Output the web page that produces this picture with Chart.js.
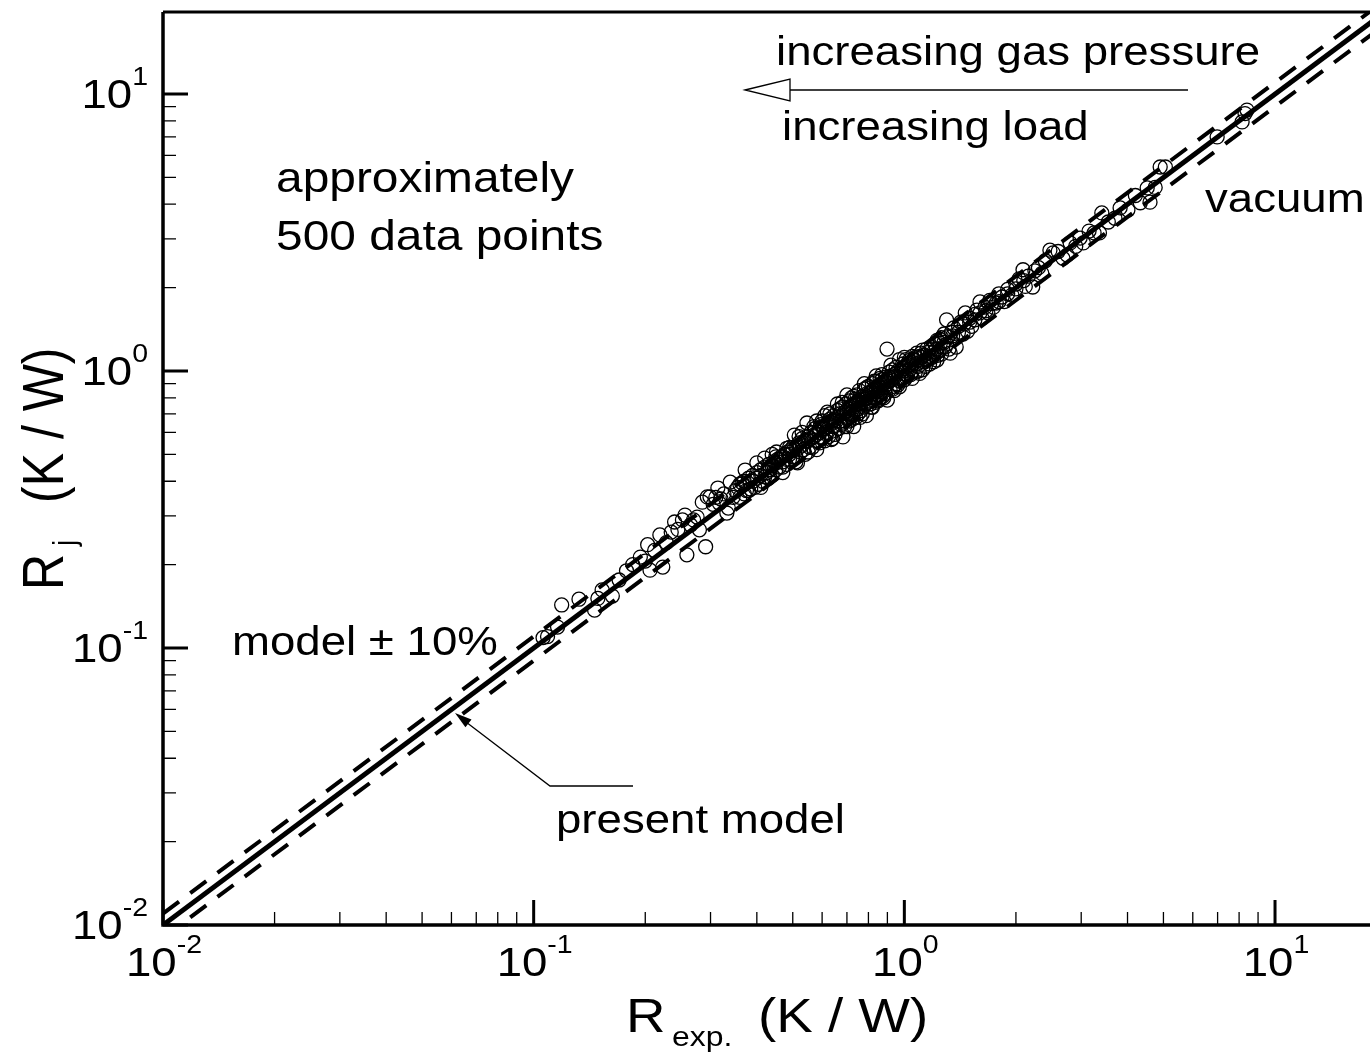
<!DOCTYPE html>
<html>
<head>
<meta charset="utf-8">
<script src="https://cdn.jsdelivr.net/npm/chart.js@4.4.1/dist/chart.umd.min.js"></script>
<style>
  html, body { margin: 0; padding: 0; background: #fff; }
  canvas { display: block; }
</style>
</head>
<body>
<canvas id="chart" width="1370" height="1052"></canvas>
<script>
// R_exp. vs R_j, log-log comparison

// axis limits
const X_MIN = 0.01, X_MAX = 18.04;
const Y_MIN = 0.01, Y_MAX = 19.77;
const DECADES = [-2, -1, 0, 1];

// present model and +-10% band
const modelLine = [[0.01, 0.01], [20, 20]];
const bandUpper = [[0.01, 0.011], [20, 22]];
const bandLower = [[0.01, 0.009], [20, 18]];

const pointsLow = [
  [0.106, 0.109], [0.109, 0.11], [0.116, 0.119], [0.119, 0.143], [0.1325, 0.150],
  [0.146, 0.137], [0.149, 0.151], [0.153, 0.162], [0.163, 0.154], [0.17, 0.176],
  [0.178, 0.19], [0.185, 0.2], [0.194, 0.213], [0.2, 0.206], [0.203, 0.236],
  [0.206, 0.191], [0.212, 0.225], [0.219, 0.256], [0.223, 0.196], [0.228, 0.24],
  [0.235, 0.262], [0.24, 0.285], [0.245, 0.268], [0.252, 0.29], [0.256, 0.302],
  [0.259, 0.217], [0.265, 0.278], [0.27, 0.29], [0.276, 0.297], [0.28, 0.267],
  [0.285, 0.336], [0.291, 0.232], [0.294, 0.351], [0.299, 0.351]
];

const pointsMid = [
  [0.305, 0.33], [0.31, 0.35], [0.314, 0.378], [0.317, 0.333], [0.32, 0.345],
  [0.326, 0.36], [0.332, 0.307], [0.335, 0.32], [0.339, 0.397], [0.345, 0.35],
  [0.35, 0.37], [0.355, 0.38], [0.36, 0.35], [0.365, 0.395], [0.37, 0.36],
  [0.372, 0.439], [0.375, 0.37], [0.38, 0.41], [0.385, 0.375], [0.39, 0.42],
  [0.395, 0.38], [0.40, 0.43], [0.40, 0.466], [0.405, 0.39], [0.41, 0.44],
  [0.415, 0.40], [0.42, 0.45], [0.42, 0.485], [0.425, 0.43], [0.43, 0.46],
  [0.435, 0.44], [0.44, 0.42], [0.445, 0.47], [0.45, 0.44], [0.452, 0.51],
  [0.455, 0.48], [0.46, 0.45], [0.465, 0.49], [0.47, 0.47], [0.47, 0.45],
  [0.475, 0.50], [0.48, 0.46], [0.482, 0.526], [0.485, 0.51], [0.49, 0.48],
  [0.495, 0.52], [0.50, 0.49], [0.50, 0.53]
];

const pointsCore = [
  [0.505, 0.587], [0.51, 0.49], [0.515, 0.466], [0.52, 0.55], [0.525, 0.51],
  [0.53, 0.57], [0.535, 0.52], [0.54, 0.5], [0.546, 0.649], [0.55, 0.56],
  [0.555, 0.53], [0.56, 0.6], [0.565, 0.53], [0.57, 0.58], [0.575, 0.62],
  [0.58, 0.66], [0.585, 0.56], [0.59, 0.6], [0.595, 0.64], [0.60, 0.57],
  [0.605, 0.62], [0.61, 0.69], [0.615, 0.6], [0.62, 0.65], [0.625, 0.58],
  [0.63, 0.67], [0.635, 0.565], [0.64, 0.63], [0.645, 0.69], [0.65, 0.61],
  [0.655, 0.66], [0.66, 0.72], [0.665, 0.62], [0.67, 0.7], [0.675, 0.64],
  [0.68, 0.74], [0.683, 0.578], [0.69, 0.66], [0.695, 0.76], [0.70, 0.72],
  [0.70, 0.82], [0.705, 0.68], [0.71, 0.78], [0.715, 0.7], [0.72, 0.75],
  [0.725, 0.67], [0.73, 0.63], [0.735, 0.79], [0.74, 0.72], [0.745, 0.82],
  [0.75, 0.7], [0.756, 0.85], [0.76, 0.77], [0.765, 0.72], [0.77, 0.81],
  [0.775, 0.74], [0.78, 0.86], [0.785, 0.76], [0.79, 0.69], [0.795, 0.83],
  [0.80, 0.88], [0.805, 0.78], [0.81, 0.84], [0.815, 0.74], [0.82, 0.9],
  [0.825, 0.8], [0.83, 0.86], [0.835, 0.77], [0.84, 0.92], [0.845, 0.82],
  [0.85, 0.88], [0.855, 0.79], [0.86, 0.94], [0.865, 0.84], [0.87, 0.97],
  [0.875, 0.81], [0.88, 0.9], [0.885, 0.85], [0.89, 0.95], [0.898, 1.2],
  [0.90, 0.785], [0.905, 0.92], [0.91, 0.99], [0.915, 0.86], [0.92, 0.96],
  [0.93, 1.01], [0.935, 0.88], [0.94, 0.97], [0.95, 1.03], [0.955, 0.9],
  [0.96, 1.0], [0.97, 0.877], [0.97, 1.1], [0.98, 0.95], [0.99, 1.06],
  [1.0, 0.93], [1.0, 1.02], [1.01, 1.1], [1.02, 0.96], [1.03, 1.05],
  [1.04, 0.97], [1.05, 1.13], [1.06, 1.07], [1.07, 0.99], [1.08, 1.16],
  [1.09, 1.04], [1.10, 0.98], [1.11, 1.12], [1.12, 1.01], [1.12, 1.19],
  [1.13, 1.08], [1.14, 1.04], [1.15, 1.2], [1.16, 1.1], [1.17, 1.06],
  [1.18, 1.22], [1.19, 1.12], [1.20, 1.08], [1.21, 1.25], [1.225, 1.096],
  [1.225, 1.29], [1.24, 1.18], [1.25, 1.3], [1.26, 1.15], [1.27, 1.22],
  [1.28, 1.36], [1.30, 1.53], [1.30, 1.25], [1.32, 1.2], [1.33, 1.16],
  [1.34, 1.38]
];

// points on the black mass around the model line
const pointsDense = [
  [0.36, 0.39], [0.37, 0.40], [0.38, 0.37], [0.39, 0.40], [0.40, 0.41],
  [0.41, 0.42], [0.42, 0.415], [0.43, 0.44], [0.44, 0.455], [0.45, 0.465],
  [0.46, 0.48], [0.47, 0.49], [0.48, 0.50], [0.49, 0.50], [0.50, 0.515],
  [0.51, 0.53], [0.52, 0.53], [0.53, 0.54], [0.54, 0.56], [0.55, 0.58],
  [0.56, 0.57], [0.57, 0.6], [0.58, 0.59], [0.59, 0.62], [0.60, 0.63],
  [0.61, 0.62], [0.62, 0.6], [0.63, 0.64], [0.64, 0.66], [0.65, 0.67],
  [0.66, 0.68], [0.67, 0.66], [0.68, 0.69], [0.69, 0.71], [0.70, 0.7],
  [0.71, 0.73], [0.72, 0.71], [0.73, 0.75], [0.74, 0.76], [0.75, 0.78],
  [0.76, 0.8], [0.77, 0.77], [0.78, 0.79], [0.79, 0.8], [0.80, 0.82],
  [0.81, 0.8], [0.82, 0.84], [0.83, 0.83], [0.84, 0.86], [0.85, 0.85],
  [0.86, 0.87], [0.87, 0.89], [0.88, 0.87], [0.89, 0.91], [0.90, 0.9],
  [0.92, 0.93], [0.94, 0.95], [0.96, 0.94], [0.98, 1.0], [1.0, 1.0],
  [1.02, 1.04], [1.04, 1.02], [1.06, 1.1], [1.08, 1.06], [1.1, 1.13],
  [1.13, 1.14], [1.16, 1.17], [1.19, 1.2], [1.22, 1.2], [1.25, 1.26],
  [1.28, 1.27], [1.31, 1.33], [1.35, 1.34], [1.4, 1.38], [1.45, 1.48],
  [1.5, 1.5], [1.55, 1.53], [1.6, 1.62], [1.66, 1.65], [1.72, 1.75],
  [1.8, 1.78], [1.9, 1.9], [2.0, 1.98], [2.1, 2.12], [0.62, 0.71],
  [0.66, 0.76], [0.72, 0.8], [0.78, 0.9], [0.84, 0.96], [0.58, 0.52],
  [0.64, 0.57], [0.7, 0.63], [0.76, 0.68], [0.82, 0.74], [0.88, 0.8],
  [0.94, 0.85], [1.0, 1.12], [1.05, 0.94]
];

// edges of the black mass
const pointsEdge = [
  [0.41, 0.38], [0.43, 0.41], [0.45, 0.49], [0.47, 0.43], [0.49, 0.53],
  [0.51, 0.47], [0.53, 0.6], [0.55, 0.51], [0.57, 0.63], [0.59, 0.55],
  [0.61, 0.56], [0.63, 0.7], [0.65, 0.59], [0.67, 0.73], [0.69, 0.63],
  [0.71, 0.66], [0.73, 0.81], [0.75, 0.73], [0.77, 0.7], [0.79, 0.87],
  [0.81, 0.76], [0.83, 0.92], [0.85, 0.78], [0.87, 0.93], [0.89, 0.83],
  [0.91, 0.95], [0.93, 0.86], [0.95, 0.98], [0.97, 0.92], [0.99, 1.02],
  [1.01, 0.95], [1.03, 1.09], [1.05, 1.0], [1.07, 1.12], [1.09, 1.0],
  [1.11, 1.16], [1.14, 1.1], [1.17, 1.13], [1.2, 1.17], [1.23, 1.14],
  [1.26, 1.32], [1.29, 1.22], [0.44, 0.5], [0.52, 0.58], [0.6, 0.66],
  [0.68, 0.77], [0.74, 0.68], [0.86, 0.8], [0.92, 1.05], [0.96, 0.89]
];

const pointsHigh = [
  [1.36, 1.43], [1.38, 1.22], [1.40, 1.45], [1.42, 1.5], [1.44, 1.36],
  [1.46, 1.62], [1.48, 1.39], [1.50, 1.55], [1.52, 1.45], [1.55, 1.6],
  [1.57, 1.66], [1.60, 1.775], [1.62, 1.55], [1.65, 1.7], [1.68, 1.62],
  [1.70, 1.8], [1.74, 1.70], [1.77, 1.76], [1.80, 1.9], [1.835, 1.85],
  [1.86, 1.78], [1.90, 1.97], [1.95, 1.88], [2.0, 2.06], [2.04, 2.15],
  [2.09, 2.32], [2.12, 2.02], [2.16, 2.2], [2.22, 2.01], [2.25, 2.3],
  [2.3, 2.36], [2.35, 2.25], [2.4, 2.5], [2.47, 2.73], [2.52, 2.67],
  [2.6, 2.7], [2.68, 2.55], [2.75, 2.62], [2.8, 2.9], [2.9, 2.82],
  [2.98, 3.02], [3.04, 2.9], [3.15, 3.2], [3.25, 3.15], [3.36, 3.15],
  [3.41, 3.72], [3.55, 3.45], [3.7, 3.56], [3.82, 3.88], [4.01, 3.81],
  [4.2, 4.3], [4.33, 4.05], [4.52, 4.58], [4.6, 4.07], [4.75, 4.6],
  [4.9, 5.45], [5.06, 5.45], [6.98, 7.0], [8.15, 7.93], [8.3, 8.5],
  [8.4, 8.75]
];

const allPoints = [...pointsLow, ...pointsMid, ...pointsCore, ...pointsDense, ...pointsEdge, ...pointsHigh];
const toXY = arr => arr.map(p => ({ x: p[0], y: p[1] }));

// text is drawn a bit wider than Arial, like the original figure
const SX = 1.14;
const FONT = '"Liberation Sans", Arial, Helvetica, sans-serif';

function txt(ctx, s, x, y, size, align, rot) {
  ctx.save();
  ctx.translate(x, y);
  ctx.scale(SX, 1);
  if (rot) ctx.rotate(rot);
  ctx.font = size + "px " + FONT;
  ctx.textAlign = align || "left";
  ctx.textBaseline = "alphabetic";
  ctx.fillStyle = "#000";
  ctx.fillText(s, 0, 0);
  ctx.restore();
}

function textW(ctx, s, size) {
  ctx.font = size + "px " + FONT;
  return ctx.measureText(s).width * SX;
}

// "10" with superscript exponent
function powLabel(ctx, e, x, y, mode) {
  const base = "10", ex = String(e);
  const wb = textW(ctx, base, 40), we = textW(ctx, ex, 25);
  let left = mode === "center" ? x - (wb + we) / 2 : x - (wb + we);
  txt(ctx, base, left, y, 40);
  txt(ctx, ex, left + wb, y - 23, 25);
}

const framePlugin = {
  id: "frame",
  afterDatasetsDraw(chart) {
    const ctx = chart.ctx;
    const a = chart.chartArea;
    const xs = chart.scales.x, ys = chart.scales.y;

    ctx.save();
    ctx.strokeStyle = "#000";
    ctx.lineCap = "butt";

    // axes lines + top border
    ctx.lineWidth = 3.5;
    ctx.beginPath();
    ctx.moveTo(a.left, a.top);
    ctx.lineTo(a.left, a.bottom);
    ctx.lineTo(a.right, a.bottom);
    ctx.stroke();
    ctx.lineWidth = 3;
    ctx.beginPath();
    ctx.moveTo(a.left, a.top);
    ctx.lineTo(a.right, a.top);
    ctx.stroke();

    // ticks (inside)
    DECADES.forEach(k => {
      const v = Math.pow(10, k);
      const px = xs.getPixelForValue(v), py = ys.getPixelForValue(v);
      ctx.lineWidth = 3;
      ctx.beginPath();
      ctx.moveTo(px, a.bottom); ctx.lineTo(px, a.bottom - 25);
      ctx.moveTo(a.left, py); ctx.lineTo(a.left + 25, py);
      ctx.stroke();
      ctx.lineWidth = 1.3;
      ctx.beginPath();
      for (let m = 2; m <= 9; m++) {
        const w = m * v;
        if (w < X_MAX) {
          const mx = xs.getPixelForValue(w);
          ctx.moveTo(mx, a.bottom); ctx.lineTo(mx, a.bottom - 13);
        }
        if (w < Y_MAX) {
          const my = ys.getPixelForValue(w);
          ctx.moveTo(a.left, my); ctx.lineTo(a.left + 13, my);
        }
      }
      ctx.stroke();

      powLabel(ctx, k, px + 1, a.bottom + 51, "center");
      powLabel(ctx, k, a.left - 15, py + 14, "right");
    });

    // axis titles
    txt(ctx, "R", 626, 1032, 48);
    txt(ctx, "exp.", 672, 1046, 28);
    txt(ctx, "(K / W)", 758, 1032, 48);

    txt(ctx, "R", 63, 590, 50, "left", -Math.PI / 2);
    txt(ctx, "j", 75, 546, 28, "left", -Math.PI / 2);
    txt(ctx, "(K / W)", 63, 503, 50, "left", -Math.PI / 2);

    // annotations
    txt(ctx, "increasing gas pressure", 776, 65, 40);
    txt(ctx, "increasing load", 782, 140, 40);
    txt(ctx, "approximately", 276, 192, 42);
    txt(ctx, "500 data points", 276, 250, 42);
    txt(ctx, "vacuum", 1205, 212, 40);
    txt(ctx, "model \u00b1 10%", 232, 655, 40);
    txt(ctx, "present model", 556, 833, 40);

    // open arrow (gas pressure / load)
    ctx.lineWidth = 1.3;
    ctx.beginPath();
    ctx.moveTo(1188, 90); ctx.lineTo(790, 90);
    ctx.stroke();
    ctx.fillStyle = "#fff";
    ctx.beginPath();
    ctx.moveTo(745, 90); ctx.lineTo(790, 79); ctx.lineTo(790, 101); ctx.closePath();
    ctx.fill(); ctx.stroke();

    // leader to the model line
    ctx.beginPath();
    ctx.moveTo(633, 786); ctx.lineTo(550, 786); ctx.lineTo(466, 722);
    ctx.stroke();
    ctx.fillStyle = "#000";
    const tx = 455, ty = 713, ang = Math.atan2(786 - 713, 550 - 455);
    ctx.beginPath();
    ctx.moveTo(tx, ty);
    ctx.lineTo(tx + 17 * Math.cos(ang) - 5 * Math.sin(ang), ty + 17 * Math.sin(ang) + 5 * Math.cos(ang));
    ctx.lineTo(tx + 17 * Math.cos(ang) + 5 * Math.sin(ang), ty + 17 * Math.sin(ang) - 5 * Math.cos(ang));
    ctx.closePath();
    ctx.fill();
    ctx.restore();
  }
};

new Chart(document.getElementById("chart"), {
  type: "scatter",
  data: {
    datasets: [
      {
        data: toXY(allPoints),
        pointStyle: "circle",
        pointRadius: 7,
        borderColor: "#000",
        borderWidth: 1.3,
        backgroundColor: "rgba(0,0,0,0)"
      },
      {
        data: toXY(modelLine),
        showLine: true, pointRadius: 0,
        borderColor: "#000", borderWidth: 5, clip: 0
      },
      {
        data: toXY(bandUpper),
        showLine: true, pointRadius: 0,
        borderColor: "#000", borderWidth: 4, borderDash: [20, 14], clip: 0
      },
      {
        data: toXY(bandLower),
        showLine: true, pointRadius: 0,
        borderColor: "#000", borderWidth: 4, borderDash: [20, 14], clip: 0
      }
    ]
  },
  options: {
    responsive: false,
    animation: false,
    layout: { autoPadding: false, padding: { left: 163, right: 0, top: 12, bottom: 127 } },
    plugins: { legend: { display: false }, tooltip: { enabled: false } },
    scales: {
      x: { type: "logarithmic", min: X_MIN, max: X_MAX, display: false },
      y: { type: "logarithmic", min: Y_MIN, max: Y_MAX, display: false }
    }
  },
  plugins: [framePlugin]
});
</script>
</body>
</html>
